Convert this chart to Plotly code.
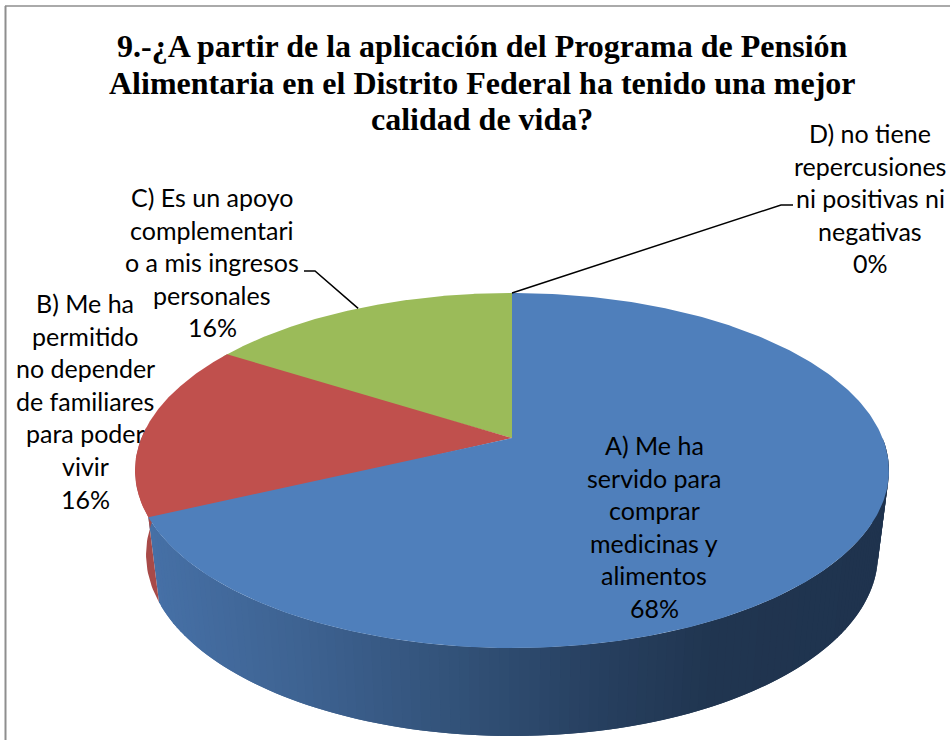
"""3D pie chart: Pension Alimentaria survey, question 9."""

import numpy as np
import plotly.graph_objects as go

# ── Data
TITLE_LINES = [
    "9.-¿A partir de la aplicación del Programa de Pensión",
    "Alimentaria en el Distrito Federal ha tenido una mejor",
    "calidad de vida?",
]
LABELS_A = ["A) Me ha", "servido para", "comprar", "medicinas y", "alimentos"]
LABELS_B = ["B) Me ha", "permitido", "no depender", "de familiares", "para poder", "vivir"]
LABELS_C = ["C) Es un apoyo", "complementari", "o a mis ingresos", "personales"]
LABELS_D = ["D) no tiene", "repercusiones", "ni positivas ni", "negativas"]
VALUES = [68, 16, 16, 0]

COLOURS = ["#4f7fbb", "#c0504d", "#9bbb59", "#8064a2"]
RED_SIDE = "#a84a48"
# Side shading of the blue slice, by pixel column
SIDE_X = [150, 300, 475, 600, 720, 890]
SIDE_R = [70, 62, 49, 39, 32, 31]
SIDE_G = [112, 99, 80, 64, 53, 51]
SIDE_B = [166, 146, 118, 96, 80, 78]

# ── Page geometry (pixels of the 950x740 picture)
WIDTH, HEIGHT = 950, 740
APEX_X, APEX_Y = 512, 438
TOP_CY, TOP_RX, TOP_RY = 470, 377, 177
LOW_CY, LOW_RX, LOW_RY = 554, 366, 181
PERSPECTIVE = 0.183
PLANE_X, PLANE_Y = 370.6, 171.6

LINE_STEP = 32.6
TITLE_X, TITLE_Y, TITLE_STEP = 482, 46, 36.5
LABEL_POS = [(654, 445), (85, 303), (212, 197), (870, 133)]
SEAM = 0.003  # slices tuck this far under their neighbour, so no white shows between them


def top_point(frac):
    """Point on the rim of the top face, frac = share of the pie clockwise from 12 o'clock."""
    a = 2 * np.pi * np.asarray(frac, dtype=float)
    u, v = np.sin(a), -np.cos(a)
    w = 1 - PERSPECTIVE * v
    return APEX_X + PLANE_X * u / w, APEX_Y + PLANE_Y * v / w


def low_point(frac):
    """Same rim point on the bottom face."""
    x, y = top_point(frac)
    ex, ey = (x - APEX_X) / TOP_RX, (y - TOP_CY) / TOP_RY
    return APEX_X + LOW_RX * ex, LOW_CY + LOW_RY * ey


def side_colour(x):
    r = np.interp(x, SIDE_X, SIDE_R)
    g = np.interp(x, SIDE_X, SIDE_G)
    b = np.interp(x, SIDE_X, SIDE_B)
    return f"rgb({r:.0f},{g:.0f},{b:.0f})"


shares = np.array(VALUES) / sum(VALUES)
edges = np.concatenate([[0], np.cumsum(shares)])

fig = go.Figure()


def add_poly(xs, ys, colour):
    fig.add_trace(
        go.Scatter(
            x=xs,
            y=ys,
            mode="lines",
            fill="toself",
            fillcolor=colour,
            line=dict(color=colour, width=0),
            hoverinfo="skip",
            showlegend=False,
        )
    )


# ── Side wall: blue slice, strip by strip so it can carry the gradient.
# Each strip runs on under the next one, which hides the seams.
fracs = np.linspace(0.25, edges[1], 121)
for f0, f1 in zip(fracs[:-2], fracs[2:]):
    tx, ty = top_point([f0, f1])
    lx, ly = low_point([f1, f0])
    add_poly(list(tx) + list(lx), list(ty) + list(ly), side_colour(tx[0]))

# Sliver of the red slice that shows at the left
fr = np.linspace(edges[1], 0.76, 30)
tx, ty = top_point(fr)
lx, ly = low_point(fr[::-1])
add_poly(list(tx) + list(lx), list(ty) + list(ly), RED_SIDE)

# ── Top face, last slice first
for i in range(len(shares) - 1, -1, -1):
    if shares[i] == 0:
        continue
    start = edges[i] - SEAM if i > 0 else edges[i]
    end = edges[i + 1] + SEAM if edges[i + 1] == 1 and i > 0 else edges[i + 1]
    ax, ay = top_point(np.linspace(start, end, 300))
    add_poly([APEX_X] + list(ax) + [APEX_X], [APEX_Y] + list(ay) + [APEX_Y], COLOURS[i])

# ── Leader lines
cx, cy = top_point((edges[2] + edges[3]) / 2)
dx, dy = top_point(edges[3])
for xs, ys in [([304, 315, float(cx)], [271, 271, float(cy)]), ([793, 781, float(dx)], [205, 205, float(dy)])]:
    fig.add_trace(
        go.Scatter(
            x=xs,
            y=ys,
            mode="lines",
            line=dict(color="#000000", width=1.5),
            hoverinfo="skip",
            showlegend=False,
        )
    )

# ── Text
for k, line in enumerate(TITLE_LINES):
    fig.add_annotation(
        x=TITLE_X,
        y=TITLE_Y + k * TITLE_STEP,
        text=f"<b>{line}</b>",
        showarrow=False,
        font=dict(family="Liberation Serif", size=32, color="#000000"),
    )

for lines, value, (px, py) in zip([LABELS_A, LABELS_B, LABELS_C, LABELS_D], VALUES, LABEL_POS):
    for k, line in enumerate(lines + [f"{value}%"]):
        fig.add_annotation(
            x=px,
            y=py + k * LINE_STEP,
            text=line,
            showarrow=False,
            font=dict(family="Lato", size=25, color="#000000"),
        )

# Chart frame, cut off by the picture on the right and at the bottom
fig.add_shape(type="line", x0=5.5, x1=5.5, y0=6, y1=HEIGHT, line=dict(color="#8e8e8e", width=2))
fig.add_shape(type="line", x0=5, x1=WIDTH, y0=6, y1=6, line=dict(color="#8e8e8e", width=1.5))

fig.update_xaxes(range=[0, WIDTH], visible=False, fixedrange=True)
fig.update_yaxes(range=[HEIGHT, 0], visible=False, fixedrange=True)
fig.update_layout(
    width=WIDTH,
    height=HEIGHT,
    margin=dict(l=0, r=0, t=0, b=0),
    paper_bgcolor="#ffffff",
    plot_bgcolor="#ffffff",
    showlegend=False,
)
fig.write_html(
    "out.html",
    config=dict(displayModeBar=False),
    post_script="document.body.style.margin='0';",
)
